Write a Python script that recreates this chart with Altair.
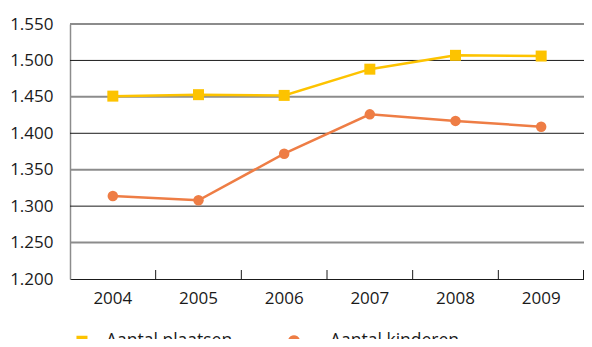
import altair as alt
import pandas as pd

years = ["2004", "2005", "2006", "2007", "2008", "2009"]
plaatsen = [1451, 1453, 1452, 1488, 1507, 1506]
kinderen = [1314, 1308, 1372, 1426, 1417, 1409]
series = ["Aantal plaatsen", "Aantal kinderen"]
colors = ["#FDC300", "#EE7D45"]
y_ticks = [1200, 1250, 1300, 1350, 1400, 1450, 1500, 1550]
grid_dark = [1300, 1400, 1500]
grid_grey = [1250, 1350, 1450, 1550]

rows = []
for name, vals in zip(series, [plaatsen, kinderen]):
    for yr, v in zip(years, vals):
        rows.append({"year": yr, "series": name, "value": v})
df = pd.DataFrame(rows)

FONT = "Open Sans"
W, H = 514, 255
xscale = alt.Scale(type="band", domain=years, paddingInner=0, paddingOuter=0)
yscale = alt.Scale(domain=[1200, 1550], nice=False, zero=False)

xaxis = alt.Axis(ticks=False, labelFont=FONT, labelFontSize=17, labelColor="#1a1a1a",
                 labelPadding=11, domainColor="#1a1a1a", domainWidth=1, labelAngle=0,
                 grid=False, labelOverlap=False)
yaxis = alt.Axis(values=y_ticks, ticks=False, labelFont=FONT, labelFontSize=17,
                 labelColor="#1a1a1a", labelPadding=17, domainColor="#8c8c8c", domainWidth=1.5,
                 labelExpr="replace(format(datum.value, ','), ',', '.')",
                 grid=False, labelOverlap=False, labelFlush=False)


def X(field="year:O", **kw):
    return alt.X(field, scale=xscale, title=None, axis=xaxis, **kw)


def Y(field="value:Q"):
    return alt.Y(field, scale=yscale, title=None, axis=yaxis)


# legend symbols (unit box -1..1)
circle_path = ("M-1,-0.066H-0.3V0.066H-1Z M0.3,-0.066H1V0.066H0.3Z "
               "M0.32,0A0.32,0.32,0,1,1,-0.32,0A0.32,0.32,0,1,1,0.32,0Z")
square_path = "M0.34,-0.29H0.92V0.29H0.34Z"

layers = []
# gridlines
layers.append(alt.Chart(pd.DataFrame({"v": grid_grey})).mark_rule(color="#8c8c8c", strokeWidth=2).encode(
    y=Y("v:Q")))
layers.append(alt.Chart(pd.DataFrame({"v": grid_dark})).mark_rule(color="#1a1a1a", strokeWidth=1).encode(
    y=Y("v:Q")))

for name, col, shp, sz in zip(series, colors, ["square", "circle"], [121, 110]):
    b = alt.Chart(df).transform_filter(alt.datum.series == name)
    layers.append(b.mark_line(strokeWidth=2.5, color=col).encode(x=X(), y=Y()))
    layers.append(b.mark_point(filled=True, opacity=1, color=col, shape=shp, size=sz).encode(x=X(), y=Y()))

legend = alt.Legend(
    title=None, orient="none", legendX=-19, legendY=298, direction="horizontal",
    labelFont=FONT, labelFontSize=17.5, labelColor="#1a1a1a", labelOffset=17,
    columnPadding=42, symbolSize=1444, symbolOpacity=1, symbolStrokeWidth=0,
)
legend_layer = alt.Chart(df).transform_filter("false").mark_point(filled=True, opacity=1).encode(
    x=X(), y=Y(),
    color=alt.Color("series:N", scale=alt.Scale(domain=series, range=colors), legend=legend),
    shape=alt.Shape("series:N", scale=alt.Scale(domain=series, range=[square_path, circle_path]), legend=legend),
)
layers.append(legend_layer)

tick_df = pd.DataFrame({"year": years[1:]})
layers.append(alt.Chart(tick_df).mark_rule(color="#1a1a1a", strokeWidth=1).encode(
    x=X(bandPosition=0), y=alt.value(H), y2=alt.value(H - 9)))
layers.append(alt.Chart(tick_df.tail(1)).mark_rule(color="#1a1a1a", strokeWidth=1).encode(
    x=alt.value(W - 0.5), y=alt.value(H), y2=alt.value(H - 9)))

chart = alt.layer(*layers).properties(
    width=W, height=H,
    autosize=alt.AutoSizeParams(type="none"),
    padding={"left": 62, "top": 16, "right": 0, "bottom": 60},
).configure_view(stroke=None).configure(background="white")

chart.save("out.html", embed_options={"renderer": "svg", "actions": False})
